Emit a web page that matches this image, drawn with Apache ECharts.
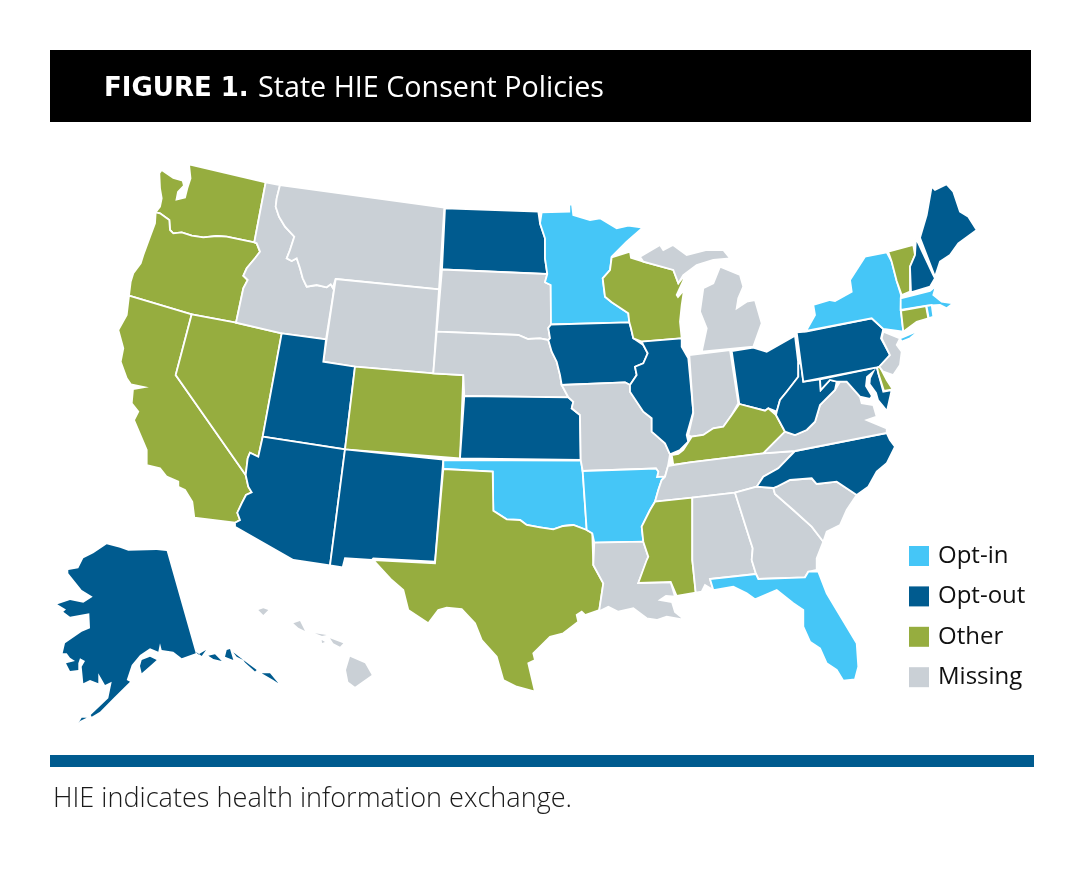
<!DOCTYPE html>
<html>
<head>
<meta charset="utf-8">
<title>State HIE Consent Policies</title>
<script src="https://cdn.jsdelivr.net/npm/echarts@6/dist/echarts.min.js"></script>
<style>
  html, body { margin: 0; padding: 0; background: #fff; }
  #main { width: 1084px; height: 873px; }
</style>
</head>
<body>
<div id="main"></div>
<script>
// policy groups
const categories = ['Opt-in', 'Opt-out', 'Other', 'Missing'];
const optIn = ['Minnesota', 'New York', 'Massachusetts', 'Rhode Island', 'Oklahoma', 'Arkansas', 'Florida'];
const optOut = ['Alaska', 'Arizona', 'Utah', 'New Mexico', 'Kansas', 'North Dakota', 'Iowa', 'Illinois', 'Ohio',
  'West Virginia', 'Pennsylvania', 'Maryland', 'North Carolina', 'New Hampshire', 'Maine'];
const other = ['Washington', 'Oregon', 'California', 'Nevada', 'Colorado', 'Texas', 'Wisconsin', 'Mississippi',
  'Kentucky', 'Vermont', 'Connecticut', 'Delaware'];
const missing = ['Idaho', 'Montana', 'Wyoming', 'South Dakota', 'Nebraska', 'Missouri', 'Louisiana', 'Michigan',
  'Indiana', 'Tennessee', 'Alabama', 'Georgia', 'South Carolina', 'Virginia', 'New Jersey', 'Hawaii'];
const colors = ['#45C6F7', '#005B8F', '#96AD3F', '#CAD0D6'];
const noBorder = ['Alaska', 'Hawaii'];

// state outlines (x,y in page pixels, one list per island)
const outlines = {
  Washington: [[189,164.3, 265.7,182.3, 254.3,242.3, 226.7,236.7, 216.7,236, 203.3,237.3, 191.7,235.7, 181.7,232.3, 173.3,233.3, 170,230, 169.3,220, 160,213.3, 155.7,212.3, 160,206.7, 161.7,198.3, 160,188.3, 159.3,173.3, 161.7,170, 173.3,178, 182.7,180.7, 184,185.7, 178,192, 176.5,199.5, 185,197.5, 187.3,188.3, 190.5,178.3]],
  Oregon: [[155.7,212.3, 160,213.3, 169.3,220, 170,230, 173.3,233.3, 181.7,232.3, 191.7,235.7, 203.3,237.3, 216.7,236, 226.7,236.7, 254.3,242.3, 256.7,243.3, 260,251.7, 255,258.3, 246.7,268.3, 243.3,275.7, 247.7,280, 243.3,288.3, 236,322.7, 191.7,314.3, 129,295.7, 130.7,281.7, 133.3,273.3, 140.7,263.3, 143.3,255, 150,236.7, 155,223.3]],
  California: [[129,295.7, 191.7,314.3, 175.7,375, 245.7,475, 248.3,486.7, 251.7,492.3, 246,495, 241.7,503.3, 237.3,512.7, 240,520, 235,522.7, 194.3,517.7, 192.3,501.7, 185,490, 178.3,486.7, 178.3,481.7, 166.7,476.7, 160,468.3, 146.7,465, 146.7,450, 134,420, 138.3,411.7, 131.7,403.3, 133,389, 144,387.2, 144,386.4, 131,384.5, 126.7,378.3, 120.7,361.7, 123.3,348.3, 118.3,330, 126.7,315]],
  Nevada: [[191.7,314.3, 236,322.7, 281.7,333.3, 262.7,436.7, 258.3,456.7, 250,452.7, 247.7,458.3, 245.7,475, 175.7,375]],
  Idaho: [[265.7,182.3, 280,185, 276.7,198.3, 275.7,206.7, 279,216.7, 285,226.7, 294.3,236.7, 290,250, 286.7,258.3, 291.7,261, 296.7,258.3, 300,268.3, 302.7,278.3, 306.7,286.7, 316.7,285, 326.7,287.3, 330.7,284.3, 332.7,287.7, 335.7,279, 326,339.3, 281.7,333.3, 236,322.7, 243.3,288.3, 247.7,280, 243.3,275.7, 246.7,268.3, 255,258.3, 260,251.7, 256.7,243.3, 254.3,242.3]],
  Montana: [[280,185, 444.3,207.7, 439,289.3, 335.7,279, 332.7,287.7, 330.7,284.3, 326.7,287.3, 316.7,285, 306.7,286.7, 302.7,278.3, 300,268.3, 296.7,258.3, 291.7,261, 286.7,258.3, 290,250, 294.3,236.7, 285,226.7, 279,216.7, 275.7,206.7, 276.7,198.3]],
  Wyoming: [[335.7,279, 439,289.3, 433.3,373.3, 355,366.7, 323.3,361.7]],
  Utah: [[281.7,333.3, 326,339.3, 323.3,361.7, 355,366.7, 345,449.3, 262.7,436.7]],
  Arizona: [[262.7,436.7, 345,449.3, 330,565.5, 293.3,560, 235,526.7, 235,522.7, 240,520, 237.3,512.7, 241.7,503.3, 246,495, 251.7,492.3, 248.3,486.7, 245.7,475, 247.7,458.3, 250,452.7, 258.3,456.7]],
  Colorado: [[355,366.7, 433.3,373.3, 463.3,375, 460,458.5, 345,449.3]],
  'New Mexico': [[345,449.3, 443.3,459.5, 435,561.7, 373.3,558.3, 371.7,560, 345,558.3, 342.7,567.3, 330,565.5]],
  'North Dakota': [[445,208.3, 538.3,211.7, 540,223.3, 545,238.3, 545,258.3, 547.3,274, 442,269.5]],
  'South Dakota': [[442,269.5, 547.3,274, 545,282.3, 550.7,285, 551,324.5, 548.3,328, 550,338.3, 548.3,340, 540,338.3, 528,339, 518.3,335, 436.7,331.7]],
  Nebraska: [[436.7,331.7, 518.3,335, 528,339, 540,338.3, 548.3,340, 551.7,351.7, 556.7,361.7, 560,375, 561.7,385, 568.3,397.3, 464.3,396, 463.3,375, 433.3,373.3]],
  Kansas: [[464.3,396, 568.3,397.3, 573.3,401.7, 571.7,408.3, 580,415, 580.7,460, 460,458.5]],
  Oklahoma: [[443.3,460, 581,460.5, 582.7,472.3, 586.7,530, 573.3,525, 563.3,526, 553.3,529.3, 540,527.3, 526.7,525, 520,520, 506.7,519.3, 493.3,510.7, 492.7,471.7, 443.3,469]],
  Texas: [[443.3,469, 492.7,471.7, 493.3,510.7, 506.7,519.3, 520,520, 526.7,525, 540,527.3, 553.3,529.3, 563.3,526, 573.3,525, 586.7,530, 592.3,533.3, 593.3,565, 603.3,583.3, 599.3,610, 585,615, 581.7,611.7, 576.7,615, 578.3,621.7, 563.3,633.3, 550,636.7, 538.3,648.3, 533.3,653.3, 535,660, 528.3,663.3, 535,691.7, 516.7,686.7, 503.3,680, 496.7,656.7, 481.7,640, 475,623.3, 461.7,609, 446.7,607.7, 438.3,610, 428.3,623.3, 408.3,610, 403.3,590, 391.7,580, 373.3,560, 435,563.3]],
  Minnesota: [[541.7,212.3, 569.3,211.7, 569.3,204.3, 572,204.5, 573.3,215, 590,220, 600,218.3, 616.7,228.3, 628.3,225.7, 642.7,227.7, 626.7,241.7, 611.7,256.7, 610,270, 602.7,278.3, 605,296.7, 611.7,302.3, 628.3,313.3, 629.3,322.3, 551,324.5, 550.7,285, 545,282.3, 547.3,274, 545,258.3, 545,238.3, 540,223.3]],
  Iowa: [[551,324.5, 629.3,322.3, 631,328.3, 633.3,338.3, 643.3,345, 647.7,353.3, 643.3,363.3, 635,366.7, 636.7,375, 630,385, 625,382.3, 561.7,385, 560,375, 556.7,361.7, 551.7,351.7, 548.3,340, 550,338.3, 548.3,328]],
  Missouri: [[561.7,385, 625,382.3, 630,385, 630,391.7, 643.3,411.7, 651.7,418.3, 651.7,431.7, 665,443.3, 670,454.3, 668,466, 665,476.7, 657,477, 658.3,471.7, 656,468.5, 582.7,471, 580.7,460, 580,415, 571.7,408.3, 573.3,401.7, 568.3,397.3]],
  Arkansas: [[582.7,471, 656,468.5, 658.3,471.7, 657,477, 665,476.7, 661.7,480, 658.3,490, 655,501.7, 650,510, 641.7,526.7, 643.3,541.7, 594.3,542.7, 592.3,533.3, 586.7,530]],
  Louisiana: [[594.3,542.7, 643.3,541.7, 648.3,556.7, 638.3,583, 670.7,582, 675,596.7, 666,596, 660,600, 672,602, 675,612, 685,620, 666.7,616.7, 656.7,620, 646.7,618.3, 633.3,608.3, 618.3,611.7, 608.3,606.7, 598.3,611.7, 599.3,610, 603.3,583.3, 593.3,565]],
  Wisconsin: [[611.7,257.3, 630,251.7, 631,257.7, 643.3,261.7, 673.3,270, 678.3,283.3, 686.7,273, 676.7,295, 678,297, 684,290, 681.7,305, 680,321.7, 681.7,338.3, 641.7,341.7, 633.3,338.3, 631,328.3, 629.3,322.3, 628.3,313.3, 611.7,302.3, 605,296.7, 602.7,278.3, 610,270]],
  Illinois: [[641.7,341.7, 681.7,338.3, 681.7,346.7, 688.3,358.3, 693.3,411.7, 686.7,435, 688.3,441.7, 680,450, 670,454.3, 665,443.3, 651.7,431.7, 651.7,418.3, 643.3,411.7, 630,391.7, 630,385, 636.7,375, 635,366.7, 643.3,363.3, 647.7,353.3, 643.3,345]],
  Michigan: [
    [701.7,351.7, 753.3,346.7, 761.7,323.3, 755,300, 746.7,301.7, 736.7,308.3, 738.3,298.3, 743.3,286.7, 740,275, 720,266.7, 713.3,283.3, 703.3,288.3, 700,311.7, 706.7,328.3],
    [640,256.7, 660,245, 663.3,250, 673,245, 686.7,255, 706.7,250, 723.3,250, 730,258.3, 713.3,260, 696.7,265, 683.3,275, 678.3,283.3, 673.3,270, 643.3,261.7]
  ],
  Indiana: [[689.3,355, 730,350, 738.3,403.3, 731.7,415, 723.3,426.7, 713.3,428.3, 703.3,435, 691.7,436.7, 688.3,435, 693.3,413.3]],
  Ohio: [[731.7,351, 753.3,347.7, 766.7,351.7, 795,335.7, 798.3,363.3, 798.3,376.7, 786.7,391.7, 780,400, 776.7,411.7, 768.3,408.3, 765,410.7, 739.3,404]],
  Kentucky: [[671.7,455, 678.3,454, 683.3,450, 691.7,436.7, 703.3,435, 713.3,428.3, 723.3,426.7, 731.7,415, 739.3,404, 765,410.7, 768.3,408.3, 776,415, 785,431.7, 775,441.7, 763.3,453.3, 690,462.3, 673.3,465]],
  Tennessee: [[673.3,465, 690,462.3, 763.3,453.3, 795,451, 778.3,468.3, 763.3,476.7, 756.7,486.7, 735,492.7, 692.3,497.7, 655,501.7, 658.3,490, 661.7,480, 665,476.7, 668,466]],
  Mississippi: [[655,501.7, 692.3,497.7, 692.3,560, 695.7,592.7, 676.7,596, 670.7,582, 638.3,583, 646.7,560, 648.3,556.7, 643.3,541.7, 641.7,526.7, 650,510]],
  Alabama: [[692.3,497.7, 735,492.7, 750,540, 752.7,548.3, 751.7,560, 756,574, 710,579, 713.3,590, 705,585, 701.7,591.7, 695.7,592.7, 692.3,560]],
  Georgia: [[735,492.7, 756.7,486.7, 773.3,488, 775,494, 793.3,510, 811.7,526.7, 823.3,541.7, 816.7,558.3, 816.7,570, 808.3,571.7, 805,577.3, 758.3,579, 756,574, 751.7,560, 752.7,548.3, 750,540]],
  Florida: [[710,579, 756,574, 758.3,579, 805,577.3, 808.3,571.7, 818.3,571.7, 826.7,593.3, 836.7,610, 856.7,643.3, 858.3,666.7, 855,679.3, 843.3,680.7, 836.7,670, 826.7,663.3, 820,648.3, 810,641.7, 803.3,626.7, 803.3,610, 793.3,603.3, 776.7,590, 755,599.3, 746.7,593.3, 733.3,586.7, 715,590, 713.3,590]],
  'South Carolina': [[773.3,488, 776.7,486.7, 790,480, 811.7,478.3, 816.7,484, 836.7,481.7, 856.7,495, 846.7,510, 840,525, 826.7,531.7, 823.3,541.7, 811.7,526.7, 793.3,510, 775,494]],
  'North Carolina': [[756.7,486.7, 763.3,476.7, 778.3,468.3, 795,451, 886.7,433, 890,440, 895,446.7, 886.7,463.3, 876.7,471.7, 868.3,486.7, 856.7,495, 836.7,481.7, 816.7,484, 811.7,478.3, 790,480, 776.7,486.7, 773.3,488]],
  Virginia: [[763.3,453.3, 775,441.7, 785,431.7, 795,435, 806.7,430, 815,421.7, 820,405, 823.3,401.7, 835,390, 840,381.7, 846.7,381.7, 860,396.7, 861.7,403.3, 873.3,405, 876.7,416.7, 866.7,420, 886.7,428.3, 886.7,433, 795,451]],
  'West Virginia': [[798.3,363.3, 801,364, 803.3,381.7, 820,379.3, 820.7,390, 830,380, 836.7,381.7, 835,390, 823.3,401.7, 820,405, 815,421.7, 806.7,430, 795,435, 785,431.7, 776,415, 776.7,411.7, 780,400, 786.7,391.7, 798.3,376.7]],
  Maryland: [[820,379.3, 876.7,367.3, 883.3,391.7, 891.7,390, 887,411, 878,400, 876,393, 869.5,384, 870,378, 873,372, 867,377, 866,386, 872,396, 870,399, 860,396.7, 846.7,381.7, 840,381.7, 836.7,381.7, 830,380, 820.7,390]],
  Delaware: [[877,366.5, 880,367, 886.7,380, 892.7,389.3, 884,391, 878.3,373.3]],
  Pennsylvania: [[796.7,332.3, 806,331.7, 871.7,318.3, 883.3,329, 881,338.3, 890,355, 879.3,366.7, 876.7,367.3, 803.3,381.7]],
  'New Jersey': [[881.7,338.3, 883.3,331.7, 900,338.3, 896.7,345, 901.7,351.7, 900,365, 893.3,375, 883.3,371.7, 879.3,366.7, 890,355]],
  'New York': [
    [806,331, 815,315, 813.3,305, 830,300, 835,301, 851.7,291.7, 850,280, 865,256.7, 886.7,252.3, 891.7,261.7, 896.7,281, 901,295, 900.7,310, 903.3,331.7, 883.3,329, 871.7,318.3],
    [900,338.3, 920,330, 910,338.3, 901.7,341.7]
  ],
  Vermont: [[888.3,251.7, 913.3,245, 915,255, 910,266.7, 910,291.7, 901.7,295, 896.7,281, 891.7,261.7]],
  'New Hampshire': [[916,238.3, 933.3,275, 935,278.3, 930,286.7, 911,292.3, 910,266.7, 915,255]],
  Maine: [[920,237.7, 926.7,215, 931.7,186.7, 935,190, 946.7,184.3, 953.3,191.7, 960,211.7, 968.3,216.7, 976.7,230, 958.3,243.3, 950,255, 940,261.7, 935,276.7]],
  Massachusetts: [[900.7,298.3, 930,291, 936,286, 933.3,295, 941.7,301.7, 953.3,303.3, 946.7,308.3, 940,305, 926.7,305.7, 900.7,310]],
  Connecticut: [[901,310.5, 926,306, 928.3,318.3, 916.7,321.7, 903.3,331.7]],
  'Rhode Island': [[926.5,306, 931.7,305, 933.3,316.7, 928.8,318.3]],
  Alaska: [
    [166.7,551, 195.7,653.3, 181.7,658.3, 173.3,651.7, 161.7,650, 160,643.3, 158.3,651.7, 150,648.3, 140,655, 131.7,665, 126.7,680, 130,681.7, 113.3,698.3, 100,711.7, 91.7,716.7, 90.7,715, 108.3,698.3, 111.7,681.7, 105,685, 98.3,673.3, 98.3,683.3, 90,680, 83.3,683.3, 81.7,666.7, 85,661, 80,658.3, 78.3,663.3, 78.3,670, 70,671, 66,663.3, 75,661, 70,657.7, 66.7,653.3, 62.7,653.3, 65,643.3, 81.7,631.7, 90,628.3, 89.3,613.3, 70,616.7, 63.3,611.7, 66,609.5, 57.3,604.3, 70,600, 83.3,602.7, 92.7,596.7, 81.7,590, 68.3,573.3, 68.3,570, 78.3,568.3, 83.3,558.3, 93.3,553.3, 106.7,544.3, 120,547.7, 128.3,550.7, 156.7,550],
    [195.7,651.7, 198.3,654.5, 206,650, 201.7,656],
    [208.3,655.7, 215,654.3, 221.7,661, 213.3,659],
    [226.7,650, 230,649, 233.3,660, 225,656.7],
    [233.3,652.3, 243.3,660, 236.7,656.7],
    [243.3,660, 256.7,670, 255,671.5, 245,662.5],
    [261.7,673.3, 270,673.3, 278.3,683.3, 273.3,680],
    [141.7,660, 150,656.7, 156.7,660, 150,666, 141.7,673.3, 140,666],
    [78.3,723.3, 81.7,717.7, 86.7,717.7, 80,721]
  ],
  Hawaii: [
    [258.3,610, 263.3,608.3, 268.3,610, 263.3,615],
    [293.3,623.3, 300,621, 305,631, 298.3,627.7],
    [330,638.3, 343.3,643.3, 340,646.7, 333.3,643.3],
    [315,633.3, 326.7,635, 322,636],
    [321.7,640, 325,642, 322,643],
    [350,656.7, 365,663.3, 371.7,675, 355,686.7, 348.3,681.7, 346,670]
  ]
};

function toGeoJson(shapes) {
  const features = Object.keys(shapes).map(function (name) {
    const polys = shapes[name].map(function (flat) {
      const ring = [];
      for (let i = 0; i < flat.length; i += 2) ring.push([flat[i], 873 - flat[i + 1]]);
      ring.push(ring[0]);
      return [ring];
    });
    return { type: 'Feature', properties: { name: name }, geometry: { type: 'MultiPolygon', coordinates: polys } };
  });
  return { type: 'FeatureCollection', features: features };
}

echarts.registerMap('states', toGeoJson(outlines));

const groups = [optIn, optOut, other, missing];
const seriesData = [];
groups.forEach(function (names, i) {
  names.forEach(function (n) {
    const item = { name: n, value: i };
    if (noBorder.indexOf(n) >= 0) item.itemStyle = { borderWidth: 0 };
    seriesData.push(item);
  });
});

const chart = echarts.init(document.getElementById('main'));
const fontName = 'Open Sans';

chart.setOption({
  animation: false,
  backgroundColor: '#fff',
  title: [
    {
      text: 'FIGURE 1.',
      left: 104, top: 76, padding: 0,
      textStyle: { fontFamily: 'DejaVu Sans', fontWeight: 'bold', fontSize: 26, color: '#fff' }
    },
    {
      text: 'State HIE Consent Policies',
      left: 258, top: 74, padding: 0,
      textStyle: { fontFamily: fontName, fontWeight: 400, fontSize: 28.7, color: '#fff' }
    },
    {
      text: 'HIE indicates health information exchange.',
      left: 53, top: 786, padding: 0,
      textStyle: { fontFamily: fontName, fontWeight: 300, fontSize: 27.1, color: '#1a1a1a' }
    }
  ],
  graphic: [
    { type: 'rect', z: 0, shape: { x: 50, y: 50, width: 981, height: 72 }, style: { fill: '#000' } },
    { type: 'rect', z: 0, shape: { x: 50, y: 755, width: 984, height: 12 }, style: { fill: '#005B8F' } }
  ],
  visualMap: {
    type: 'piecewise',
    left: 909, top: 544,
    padding: 0,
    align: 'left',
    inverse: true,
    itemWidth: 20, itemHeight: 20, itemGap: 16.4, textGap: 9,
    itemSymbol: 'rect',
    selectedMode: false,
    hoverLink: false,
    seriesIndex: 0,
    textStyle: { fontFamily: fontName, fontSize: 24, color: '#111' },
    pieces: categories.map(function (c, i) { return { value: i, label: c, color: colors[i] }; })
  },
  series: [{
    type: 'map',
    map: 'states',
    aspectScale: 1,
    boundingCoords: [[0, 873], [1084, 0]],
    layoutCenter: [542, 436.5],
    layoutSize: 1084,
    roam: false,
    silent: true,
    selectedMode: false,
    label: { show: false },
    itemStyle: { borderColor: '#fff', borderWidth: 1.8 },
    emphasis: { disabled: true },
    data: seriesData
  }]
});
</script>
</body>
</html>
